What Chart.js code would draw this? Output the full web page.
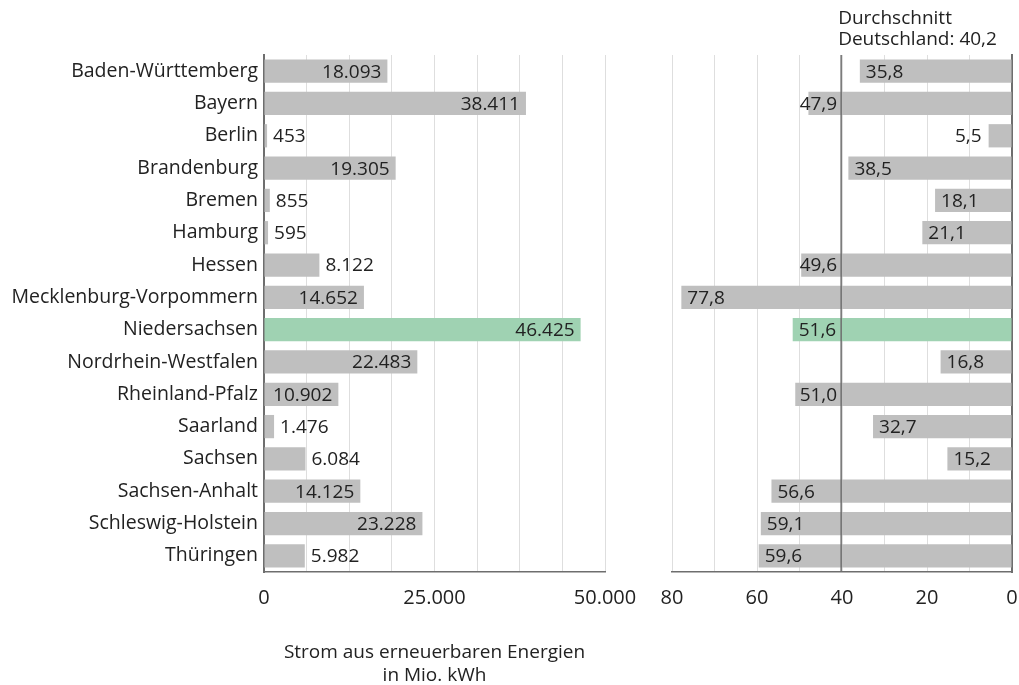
<!DOCTYPE html>
<html>
<head>
<meta charset="utf-8">
<script src="https://cdn.jsdelivr.net/npm/chart.js@4/dist/chart.umd.min.js"></script>
<style>
  html, body { margin: 0; padding: 0; background: #fff; }
  #wrap { position: relative; width: 1019px; height: 685px; }
  canvas { position: absolute; top: 0; }
</style>
</head>
<body>
<div id="wrap">
  <canvas id="left" width="640" height="685" style="left:0"></canvas>
  <canvas id="right" width="379" height="685" style="left:640px"></canvas>
</div>
<script>
const states = ['Baden-Württemberg', 'Bayern', 'Berlin', 'Brandenburg', 'Bremen', 'Hamburg', 'Hessen',
    'Mecklenburg-Vorpommern', 'Niedersachsen', 'Nordrhein-Westfalen', 'Rheinland-Pfalz', 'Saarland',
    'Sachsen', 'Sachsen-Anhalt', 'Schleswig-Holstein', 'Thüringen']
const strom = [18093, 38411, 453, 19305, 855, 595, 8122, 14652, 46425, 22483, 10902, 1476, 6084, 14125, 23228, 5982]
const anteil = [35.8, 47.9, 5.5, 38.5, 18.1, 21.1, 49.6, 77.8, 51.6, 16.8, 51.0, 32.7, 15.2, 56.6, 59.1, 59.6]
const durchschnitt = 40.2
const highlight = 'Niedersachsen'
const leftTitle = ['Strom aus erneuerbaren Energien', 'in Mio. kWh']
const rightTitle = ['Anteil', 'in Prozent']
const avgTitle = ['Durchschnitt', 'Deutschland: ' + durchschnitt.toFixed(1).replace('.', ',')]

const FONT = "'Open Sans', 'DejaVu Sans', sans-serif"
const TEXT = '#222'
const GRAY = '#bfbfbf'
const GREEN = '#9fd2b2'
const GRID = '#dedede'
const AXIS = '#6e6e6e'

Chart.defaults.font.family = FONT
Chart.defaults.color = TEXT

const barColors = states.map(s => s === highlight ? GREEN : GRAY)
const fmtThousand = v => String(Math.round(v)).replace(/\B(?=(\d{3})+(?!\d))/g, '.')
const fmtDecimal = v => v.toFixed(1).replace('.', ',')

// keep the chart area where the layout padding puts it (no extra room for tick labels)
function fixX(scale) {
    scale.height = 113
    scale.paddingLeft = 0
    scale.paddingRight = 0
}

// value labels: left chart -> inside at bar end if it fits, otherwise after the bar
const leftLabels = {
    id: 'leftLabels',
    afterDatasetsDraw(chart) {
        const { ctx } = chart
        const meta = chart.getDatasetMeta(0)
        ctx.save()
        ctx.font = '19px ' + FONT
        ctx.fillStyle = TEXT
        ctx.textBaseline = 'middle'
        meta.data.forEach((bar, i) => {
            const text = fmtThousand(strom[i])
            const w = ctx.measureText(text).width
            const len = bar.x - bar.base
            if (len >= w + 12) {
                ctx.textAlign = 'right'
                ctx.fillText(text, bar.x - 6, bar.y + 1)
            } else {
                ctx.textAlign = 'left'
                ctx.fillText(text, bar.x + 6, bar.y + 1)
            }
        })
        ctx.restore()
    }
}

// right chart: average line, its caption, value labels and axis title
const rightExtras = {
    id: 'rightExtras',
    afterDatasetsDraw(chart) {
        const { ctx, chartArea } = chart
        const xs = chart.scales.x
        const avgX = xs.getPixelForValue(durchschnitt)
        ctx.save()
        ctx.strokeStyle = AXIS
        ctx.lineWidth = 1.5
        ctx.beginPath()
        ctx.moveTo(avgX, chartArea.top)
        ctx.lineTo(avgX, chartArea.bottom)
        ctx.stroke()

        ctx.font = '19px ' + FONT
        ctx.fillStyle = TEXT
        ctx.textBaseline = 'middle'
        ctx.textAlign = 'left'
        avgTitle.forEach((t, k) => ctx.fillText(t, avgX - 3, 19 + k * 21))

        const meta = chart.getDatasetMeta(0)
        meta.data.forEach((bar, i) => {
            const text = fmtDecimal(anteil[i])
            const w = ctx.measureText(text).width
            const len = bar.base - bar.x
            if (len >= w + 12) {
                if (bar.x < avgX && bar.x + 6 + w > avgX - 4) {
                    ctx.textAlign = 'right'
                    ctx.fillText(text, avgX - 4, bar.y + 1)
                } else {
                    ctx.textAlign = 'left'
                    ctx.fillText(text, bar.x + 6, bar.y + 1)
                }
            } else {
                ctx.textAlign = 'right'
                ctx.fillText(text, bar.x - 7, bar.y + 1)
            }
        })

        ctx.textAlign = 'center'
        rightTitle.forEach((t, k) => ctx.fillText(t, 880, 653 + k * 23))
        ctx.restore()
    }
}

new Chart(document.getElementById('left'), {
    type: 'bar',
    data: {
        labels: states,
        datasets: [{
            data: strom,
            backgroundColor: barColors,
            barPercentage: 0.72,
            categoryPercentage: 1
        }]
    },
    options: {
        indexAxis: 'y',
        responsive: false,
        animation: false,
        devicePixelRatio: 1,
        layout: { padding: { top: 55, right: 35, left: 0, bottom: 0 } },
        plugins: { legend: { display: false }, tooltip: { enabled: false } },
        scales: {
            x: {
                min: 0,
                max: 50000,
                afterFit: fixX,
                ticks: {
                    stepSize: 6250,
                    autoSkip: false,
                    maxRotation: 0,
                    padding: 14,
                    font: { size: 20 },
                    color: TEXT,
                    callback: v => v % 25000 === 0 ? fmtThousand(v) : ''
                },
                grid: { color: GRID, lineWidth: 1, drawTicks: false },
                border: { display: true, color: AXIS, width: 1.5 },
                title: {
                    display: true,
                    text: leftTitle,
                    font: { size: 19, lineHeight: 1.2 },
                    color: TEXT,
                    padding: { top: 0, bottom: -2 }
                }
            },
            y: {
                afterFit(scale) { scale.width = 264 },
                ticks: { padding: 6, font: { size: 19.5 }, color: TEXT, autoSkip: false },
                grid: { display: false, drawTicks: false },
                border: { display: true, color: AXIS, width: 2 }
            }
        }
    },
    plugins: [leftLabels]
})

new Chart(document.getElementById('right'), {
    type: 'bar',
    data: {
        labels: states,
        datasets: [{
            data: anteil,
            backgroundColor: barColors,
            barPercentage: 0.72,
            categoryPercentage: 1
        }]
    },
    options: {
        indexAxis: 'y',
        responsive: false,
        animation: false,
        devicePixelRatio: 1,
        layout: { padding: { top: 55, right: 7, left: 32, bottom: 0 } },
        plugins: { legend: { display: false }, tooltip: { enabled: false } },
        scales: {
            x: {
                min: 0,
                max: 80,
                reverse: true,
                afterFit: fixX,
                ticks: {
                    stepSize: 10,
                    autoSkip: false,
                    maxRotation: 0,
                    padding: 14,
                    font: { size: 20 },
                    color: TEXT,
                    callback: v => v % 20 === 0 ? String(v) : ''
                },
                grid: { color: GRID, lineWidth: 1, drawTicks: false },
                border: { display: true, color: AXIS, width: 1.5 }
            },
            y: {
                position: 'right',
                afterFit(scale) { scale.width = 0 },
                ticks: { display: false },
                grid: { display: false, drawTicks: false },
                border: { display: true, color: AXIS, width: 2 }
            }
        }
    },
    plugins: [rightExtras]
})
</script>
</body>
</html>
